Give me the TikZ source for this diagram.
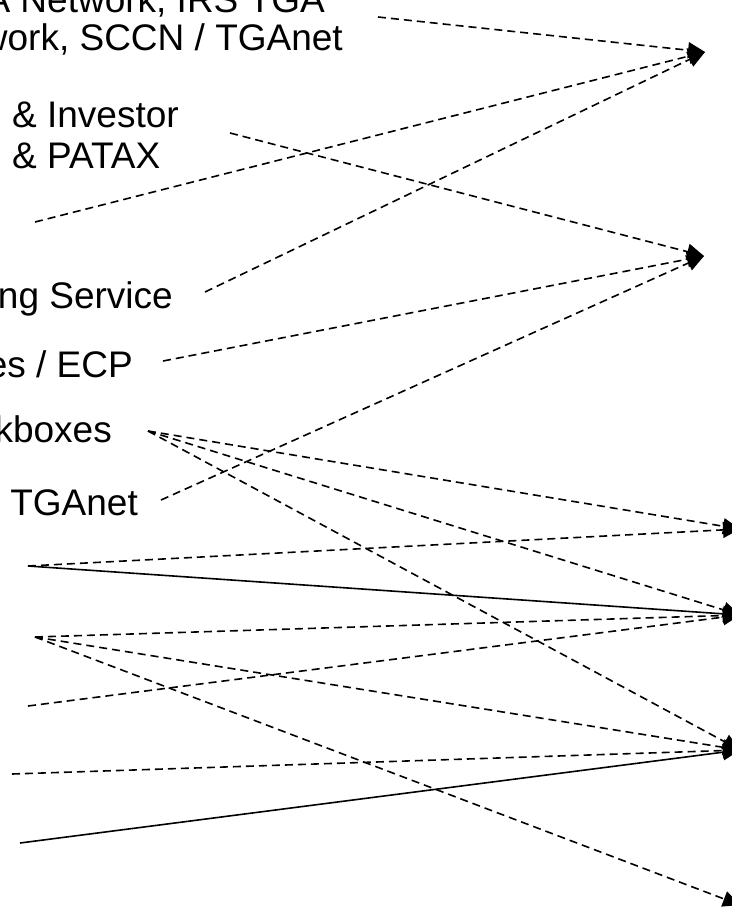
\documentclass[tikz,border=0pt]{standalone}
\usepackage{fontspec}
\setmainfont{Liberation Sans}
\usetikzlibrary{arrows.meta}
\tikzset{
  lbl/.style={inner sep=0pt, font=\fontsize{37}{42}\selectfont},
  edge/.style={line width=1.6pt, -{Triangle[length=17pt,width=16pt]}},
  dedge/.style={edge, dash pattern=on 8pt off 5pt},
}
\begin{document}
\begin{tikzpicture}[x=1pt,y=-1pt]
\useasboundingbox (0,0) rectangle (731,921);
% labels (left side, partly cut by the picture's edge, as in the reference)
\node[lbl, anchor=base east] (t1) at (325,12) {A Network, IRS TGA};
\node[lbl, anchor=base east] (t2) at (343,50) {work, SCCN / TGAnet};
\node[lbl, anchor=base west] (t3) at (12,127) {\& Investor};
\node[lbl, anchor=base west] (t4) at (12,168) {\& PATAX};
\node[lbl, anchor=base east] (t5) at (173,308) {ng Service};
\node[lbl, anchor=base east] (t6) at (133,377) {es / ECP};
\node[lbl, anchor=base east] (t7) at (112,442) {kboxes};
\node[lbl, anchor=base east] (t8) at (138,515) {TGAnet};
% connector end points
\coordinate (s1) at (378,17);
\coordinate (s2) at (35,222);
\coordinate (s3) at (205,292);
\coordinate (s4) at (230,133);
\coordinate (s5) at (163,361);
\coordinate (s6) at (161,500);
\coordinate (s7) at (148,431);
\coordinate (s8) at (28,566);
\coordinate (s9) at (35,637);
\coordinate (s10) at (28,706);
\coordinate (s11) at (12,774);
\coordinate (s12) at (20,843);
% arrow targets
\coordinate (a1) at (705,52);
\coordinate (a2) at (704,256);
\coordinate (a3) at (740,529);
\coordinate (a4) at (740,615);
\coordinate (a5) at (740,750);
\coordinate (a6) at (740,905);
% connectors
\draw[dedge] (s1) -- (a1);
\draw[dedge] (s2) -- (a1);
\draw[dedge] (s3) -- (a1);
\draw[dedge] (s4) -- (a2);
\draw[dedge] (s5) -- (a2);
\draw[dedge] (s6) -- (a2);
\draw[dedge] (s7) -- (a3);
\draw[dedge] (s7) -- (a4);
\draw[dedge] (s7) -- (a5);
\draw[dedge] (s8) -- (a3);
\draw[edge] (s8) -- (a4);
\draw[dedge] (s9) -- (a4);
\draw[dedge] (s9) -- (a5);
\draw[dedge] (s9) -- (a6);
\draw[dedge] (s10) -- (a4);
\draw[dedge] (s11) -- (a5);
\draw[edge] (s12) -- (a5);
\end{tikzpicture}
\end{document}
